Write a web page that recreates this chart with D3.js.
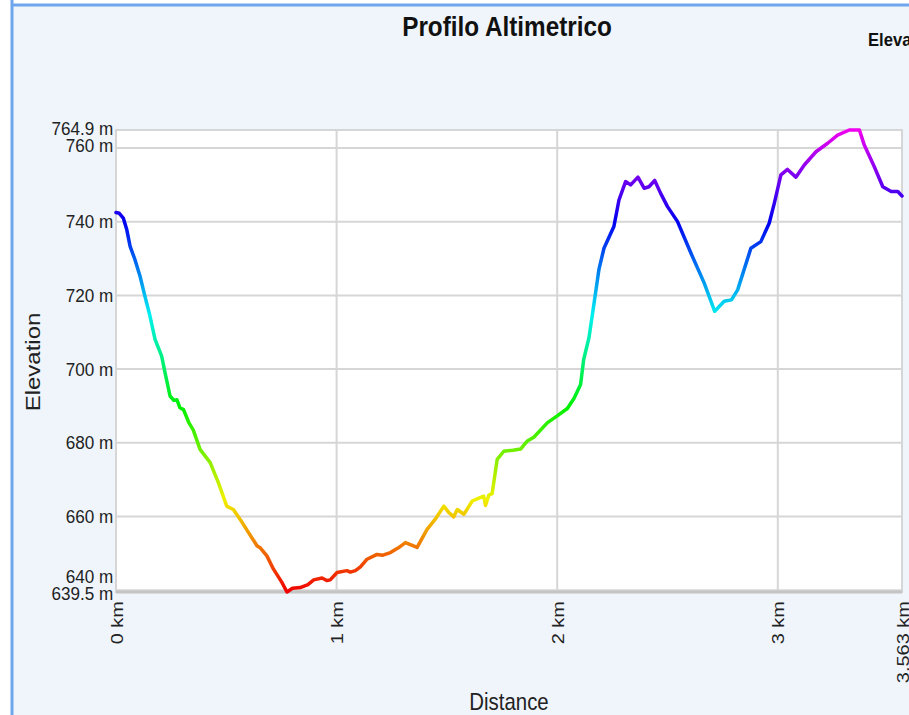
<!DOCTYPE html>
<html>
<head>
<meta charset="utf-8">
<script src="https://cdn.jsdelivr.net/npm/d3@7"></script>
<style>
  html, body { margin: 0; padding: 0; background: #ffffff; }
  svg { display: block; }
  text { font-family: "Liberation Sans", Arial, sans-serif; }
</style>
</head>
<body>
<svg id="chart" width="909" height="715"></svg>
<script>
// ---- data ----
const distanceKm = [0.000,0.015,0.033,0.049,0.064,0.086,0.109,0.131,0.154,0.177,0.207,0.222,0.245,0.262,0.276,0.290,0.306,0.330,0.350,0.381,0.427,0.464,0.502,0.532,0.563,0.601,0.640,0.654,0.684,0.714,0.752,0.775,0.800,0.835,0.870,0.896,0.934,0.955,0.971,1.002,1.047,1.062,1.085,1.108,1.138,1.183,1.210,1.244,1.280,1.312,1.340,1.365,1.410,1.450,1.486,1.510,1.531,1.547,1.577,1.615,1.645,1.667,1.675,1.690,1.705,1.728,1.758,1.800,1.834,1.865,1.894,1.955,2.000,2.046,2.076,2.106,2.120,2.144,2.167,2.189,2.212,2.257,2.280,2.310,2.333,2.366,2.394,2.416,2.442,2.469,2.500,2.545,2.606,2.666,2.714,2.757,2.790,2.818,2.878,2.923,2.961,2.984,3.014,3.044,3.082,3.120,3.173,3.226,3.271,3.324,3.370,3.392,3.437,3.476,3.514,3.544,3.563];
const elevationM = [742.5,742.3,741.0,737.8,733.3,729.7,725.2,719.8,714.4,708.1,703.5,699.1,692.7,691.5,691.7,689.5,689.0,685.5,683.5,678.2,674.6,669.2,662.8,661.9,659.2,655.6,652.0,651.5,649.3,645.7,642.1,639.5,640.5,640.7,641.5,642.8,643.3,642.6,642.8,644.8,645.3,644.9,645.3,646.3,648.4,649.7,649.5,650.2,651.5,652.9,652.2,651.6,656.5,659.5,662.8,661.0,659.9,661.9,660.6,664.2,665.0,665.5,663.0,665.8,666.2,675.5,677.7,678.0,678.3,680.5,681.5,685.4,687.3,689.3,692.0,695.8,702.6,708.5,717.9,727.0,732.8,738.7,745.9,750.9,750.0,752.1,749.1,749.5,751.2,747.7,744.1,740.1,731.5,723.4,715.7,718.4,718.8,721.5,732.8,734.6,739.6,745.0,752.7,754.2,752.1,755.4,759.0,761.3,763.5,764.9,764.9,760.8,755.0,749.5,748.2,748.2,747.0];
const yTickValues = [639.5, 640, 660, 680, 700, 720, 740, 760, 764.9];
const xTickValues = [0, 1, 2, 3, 3.563];
const titleText = "Profilo Altimetrico";
const legendText = "Elevation";
const xTitle = "Distance";
const yTitle = "Elevation";

// ---- layout ----
const W = 909, H = 715;
const plot = { left: 116, right: 902, top: 130, bottom: 592 };
const SQ = 0.85; // horizontal text squeeze
const SQY = 0.9;

const svg = d3.select("#chart");
const pts = distanceKm.map((d, i) => ({ d, e: elevationM[i] }));

// background + frame
svg.append("rect").attr("x", 12).attr("y", 5).attr("width", W).attr("height", H).attr("fill", "#eff5fb");
svg.append("line").attr("x1", 12).attr("x2", 12).attr("y1", 0).attr("y2", H).attr("stroke", "#6ea6ee").attr("stroke-width", 3);
svg.append("line").attr("x1", 12).attr("x2", W).attr("y1", 5).attr("y2", 5).attr("stroke", "#6ea6ee").attr("stroke-width", 3);

const x = d3.scaleLinear().domain([0, 3.563]).range([plot.left, plot.right]);
const y = d3.scaleLinear().domain([639.5, 764.9]).range([plot.bottom, plot.top]);

// plot area
svg.append("rect").attr("x", plot.left).attr("y", plot.top)
  .attr("width", plot.right - plot.left).attr("height", plot.bottom - plot.top)
  .attr("fill", "#ffffff").attr("stroke", "#d6d6d6").attr("stroke-width", 2);

// grid
const grid = svg.append("g");
grid.selectAll(".hg").data([640, 660, 680, 700, 720, 740, 760]).join("line")
  .attr("x1", plot.left).attr("x2", plot.right)
  .attr("y1", d => y(d)).attr("y2", d => y(d))
  .attr("stroke", "#d6d6d6").attr("stroke-width", 2);
grid.selectAll(".vg").data([1, 2, 3]).join("line")
  .attr("x1", d => x(d)).attr("x2", d => x(d))
  .attr("y1", plot.top).attr("y2", plot.bottom)
  .attr("stroke", "#d6d6d6").attr("stroke-width", 2);

// bottom axis line
svg.append("line").attr("x1", plot.left).attr("x2", plot.right)
  .attr("y1", plot.bottom).attr("y2", plot.bottom)
  .attr("stroke", "#c4c4c4").attr("stroke-width", 3);

// gradient by elevation
const defs = svg.append("defs");
const grad = defs.append("linearGradient").attr("id", "elevGrad")
  .attr("gradientUnits", "userSpaceOnUse")
  .attr("x1", 0).attr("x2", 0).attr("y1", y(639.5)).attr("y2", y(764.9));
d3.range(0, 31).forEach(i => {
  const t = i / 30;
  grad.append("stop").attr("offset", t).attr("stop-color", d3.hsl(t * 300, 1, 0.47).formatHex());
});

const line = d3.line().x(p => x(p.d)).y(p => y(p.e)).curve(d3.curveLinear);
svg.append("path").datum(pts).attr("d", line)
  .attr("fill", "none").attr("stroke", "url(#elevGrad)")
  .attr("stroke-width", 3.5).attr("stroke-linejoin", "round").attr("stroke-linecap", "round");

// y axis
const yAxis = d3.axisLeft(y).tickValues(yTickValues).tickSize(0).tickPadding(3)
  .tickFormat(d => d + " m");
const gy = svg.append("g").attr("transform", `translate(${plot.left},0)`).call(yAxis);
gy.select(".domain").remove();
gy.selectAll("text")
  .attr("font-size", 19).attr("fill", "#222").attr("font-family", "Liberation Sans, Arial, sans-serif")
  .attr("transform", `scale(${SQY},1)`);
gy.selectAll(".tick").filter(d => d === 764.9).select("text").attr("dy", "0.23em");
gy.selectAll(".tick").filter(d => d === 760).select("text").attr("dy", "0.18em");
gy.selectAll(".tick").filter(d => d === 640).select("text").attr("dy", "-0.42em");
gy.selectAll(".tick").filter(d => d === 639.5).select("text").attr("dy", "0.4em");

// x axis
const xAxis = d3.axisBottom(x).tickValues(xTickValues).tickSize(0)
  .tickFormat(d => d + " km");
const gx = svg.append("g").attr("transform", `translate(0,${plot.bottom})`).call(xAxis);
gx.select(".domain").remove();
gx.selectAll("text")
  .attr("font-size", 20).attr("fill", "#222").attr("font-family", "Liberation Sans, Arial, sans-serif")
  .attr("text-anchor", "end").attr("x", -9).attr("y", 0).attr("dy", "0.36em")
  .attr("transform", `scale(${SQ},1) rotate(-90)`);

// titles
svg.append("text").attr("transform", `translate(507,36) scale(0.9,1)`)
  .attr("text-anchor", "middle").attr("font-size", 27).attr("font-weight", "bold").attr("fill", "#111")
  .text(titleText);
svg.append("text").attr("transform", `translate(868,46) scale(0.95,1)`)
  .attr("font-size", 17.5).attr("font-weight", "bold").attr("fill", "#111")
  .text(legendText);
svg.append("text").attr("transform", `translate(509,710) scale(${SQ},1)`)
  .attr("text-anchor", "middle").attr("font-size", 24).attr("fill", "#222")
  .text(xTitle);
svg.append("text").attr("transform", `translate(40,362) scale(${SQ},1) rotate(-90)`)
  .attr("text-anchor", "middle").attr("font-size", 24).attr("fill", "#222")
  .text(yTitle);
</script>
</body>
</html>
